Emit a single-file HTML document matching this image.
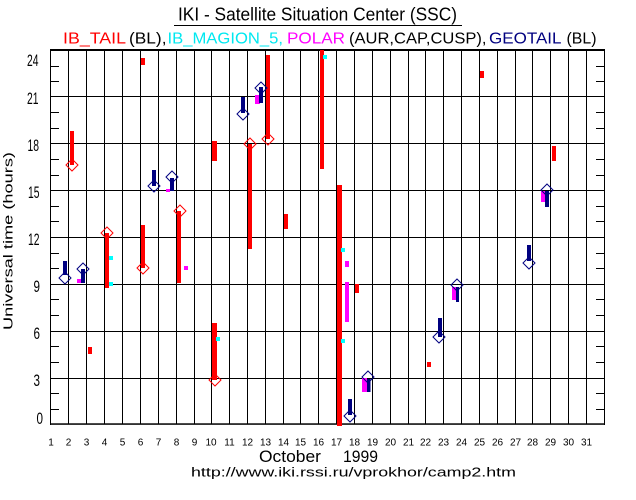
<!DOCTYPE html>
<html><head><meta charset="utf-8"><style>
html,body{margin:0;padding:0;background:#fff;}
svg{display:block;font-family:"Liberation Sans",sans-serif;}
</style></head><body>
<svg width="636" height="500" viewBox="0 0 636 500" xmlns="http://www.w3.org/2000/svg">
<rect width="636" height="500" fill="#fff"/>
<!-- titles -->
<text x="178" y="20.5" font-size="18" textLength="279" lengthAdjust="spacingAndGlyphs" fill="#000">IKI - Satellite Situation Center (SSC)</text>
<rect x="174" y="25" width="288" height="1" fill="#000"/>
<g font-size="16">
<text x="63" y="43.5" fill="#ff0000" textLength="63" lengthAdjust="spacingAndGlyphs">IB_TAIL</text>
<text x="129" y="43.5" fill="#000" textLength="37.5" lengthAdjust="spacingAndGlyphs">(BL),</text>
<text x="167.5" y="43.5" fill="#00e8f0" textLength="115.5" lengthAdjust="spacingAndGlyphs">IB_MAGION_5,</text>
<text x="287" y="43.5" fill="#ff00ff" textLength="58" lengthAdjust="spacingAndGlyphs">POLAR</text>
<text x="349" y="43.5" fill="#000" textLength="137.5" lengthAdjust="spacingAndGlyphs">(AUR,CAP,CUSP),</text>
<text x="489" y="43.5" fill="#000080" textLength="72.5" lengthAdjust="spacingAndGlyphs">GEOTAIL</text>
<text x="566.5" y="43.5" fill="#000" textLength="30" lengthAdjust="spacingAndGlyphs">(BL)</text>
</g>
<!-- y axis label -->
<text transform="translate(12.5,241) rotate(-90)" text-anchor="middle" font-size="13" textLength="178" lengthAdjust="spacingAndGlyphs" fill="#000">Universal time (hours)</text>
<!-- y tick labels -->
<g font-size="17" fill="#000" lengthAdjust="spacingAndGlyphs">
<text x="27" y="66" textLength="11.5" lengthAdjust="spacingAndGlyphs">24</text>
<text x="27" y="104" textLength="11.5" lengthAdjust="spacingAndGlyphs">21</text>
<text x="27.5" y="151" textLength="11.5" lengthAdjust="spacingAndGlyphs">18</text>
<text x="28" y="198" textLength="11.5" lengthAdjust="spacingAndGlyphs">15</text>
<text x="28" y="245" textLength="11.5" lengthAdjust="spacingAndGlyphs">12</text>
<text x="33.5" y="292" textLength="6.5" lengthAdjust="spacingAndGlyphs">9</text>
<text x="33.5" y="339" textLength="6.5" lengthAdjust="spacingAndGlyphs">6</text>
<text x="33.5" y="386" textLength="6.5" lengthAdjust="spacingAndGlyphs">3</text>
<text x="36.5" y="424" textLength="6.5" lengthAdjust="spacingAndGlyphs">0</text>
</g>
<!-- grid -->
<g stroke="#000" stroke-width="1" fill="none">
<path d="M68.5 50V424 M86.5 50V424 M104.5 50V424 M122.5 50V424 M140.5 50V424 M158.5 50V424 M176.5 50V424 M194.5 50V424 M211.5 50V424 M229.5 50V424 M247.5 50V424 M265.5 50V424 M283.5 50V424 M300.5 50V424 M318.5 50V424 M336.5 50V424 M354.5 50V424 M372.5 50V424 M390.5 50V424 M408.5 50V424 M425.5 50V424 M443.5 50V424 M461.5 50V424 M479.5 50V424 M497.5 50V424 M515.5 50V424 M532.5 50V424 M550.5 50V424 M568.5 50V424 M586.5 50V424"/>
<path d="M50 96.5H604 M50 143.5H604 M50 190.5H604 M50 237.5H604 M50 284.5H604 M50 331.5H604 M50 378.5H604"/>
<path d="M50.5 49V425 M604.5 49V425"/>
<path d="M50 66.5H59 M50 81.5H59 M50 112.5H59 M50 128.5H59 M50 159.5H59 M50 175.5H59 M50 206.5H59 M50 221.5H59 M50 253.5H59 M50 268.5H59 M50 299.5H59 M50 315.5H59 M50 346.5H59 M50 362.5H59 M50 393.5H59 M50 409.5H59"/>
<path d="M596 66.5H604 M596 81.5H604 M596 112.5H604 M596 128.5H604 M596 159.5H604 M596 175.5H604 M596 206.5H604 M596 221.5H604 M596 253.5H604 M596 268.5H604 M596 299.5H604 M596 315.5H604 M596 346.5H604 M596 362.5H604 M596 393.5H604 M596 409.5H604"/>
</g>
<rect x="50" y="49" width="555" height="2" fill="#000"/>
<rect x="50" y="423.3" width="555" height="1.5" fill="#000"/>
<!-- red bars -->
<g fill="#ff0000">
<rect x="70" y="131" width="4" height="34"/>
<rect x="141" y="58" width="4" height="7"/>
<rect x="105" y="233" width="4" height="55"/>
<rect x="141" y="225" width="4" height="43"/>
<rect x="177" y="211" width="4" height="72"/>
<rect x="212" y="141" width="5" height="20"/>
<rect x="212" y="323" width="5" height="57"/>
<rect x="248" y="144" width="4" height="105"/>
<rect x="266" y="55" width="4" height="84"/>
<rect x="284" y="214" width="4" height="15"/>
<rect x="320" y="50" width="4" height="119"/>
<rect x="337" y="185" width="5" height="241"/>
<rect x="88" y="347" width="4" height="7"/>
<rect x="355" y="284" width="4" height="9"/>
<rect x="427" y="362" width="4" height="5"/>
<rect x="480" y="71" width="4" height="7"/>
<rect x="552" y="146" width="4" height="15"/>
</g>
<!-- magenta -->
<g fill="#ff00ff">
<rect x="77" y="279" width="4" height="4"/>
<rect x="166" y="189" width="4" height="3"/>
<rect x="184" y="266" width="4" height="4"/>
<rect x="255" y="95" width="5" height="9"/>
<rect x="345" y="261" width="4" height="6"/>
<rect x="345" y="282" width="4" height="40"/>
<rect x="362" y="378" width="5" height="14"/>
<rect x="452" y="287" width="4" height="13"/>
<rect x="541" y="191" width="4" height="11"/>
</g>
<!-- cyan -->
<g fill="#00ffff">
<rect x="109" y="256" width="4" height="4"/>
<rect x="109" y="282" width="4" height="4"/>
<rect x="216" y="337" width="4" height="4"/>
<rect x="323" y="55" width="4" height="4"/>
<rect x="341" y="248" width="4" height="4"/>
<rect x="341" y="339" width="4" height="4"/>
</g>
<!-- navy bars -->
<g fill="#000080">
<rect x="63" y="261" width="4" height="14"/>
<rect x="81" y="269" width="4" height="14"/>
<rect x="152" y="170" width="4" height="16"/>
<rect x="170" y="178" width="4" height="13"/>
<rect x="241" y="97" width="4" height="16"/>
<rect x="259" y="87" width="4" height="16"/>
<rect x="348" y="399" width="4" height="16"/>
<rect x="367" y="379" width="3.5" height="13"/>
<rect x="438" y="318" width="4" height="19"/>
<rect x="456" y="287" width="3" height="15"/>
<rect x="527" y="245" width="4" height="16"/>
<rect x="545" y="191" width="4" height="16"/>
</g>
<!-- red diamonds -->
<g fill="none" stroke="#ff0000" stroke-width="1">
<path d="M72 159L78 165L72 171L66 165Z"/>
<path d="M107 227L113 233L107 239L101 233Z"/>
<path d="M143 262L149 268L143 274L137 268Z"/>
<path d="M180 205L186 211L180 217L174 211Z"/>
<path d="M215 374L221 380L215 386L209 380Z"/>
<path d="M250 138L256 144L250 150L244 144Z"/>
<path d="M268 133L274 139L268 145L262 139Z"/>
</g>
<!-- navy diamonds -->
<g fill="none" stroke="#000080" stroke-width="1">
<path d="M65 272L71 278L65 284L59 278Z"/>
<path d="M83 263L89 269L83 275L77 269Z"/>
<path d="M154 180L160 186L154 192L148 186Z"/>
<path d="M172 171L178 177L172 183L166 177Z"/>
<path d="M243 108L249 114L243 120L237 114Z"/>
<path d="M261 82L267 88L261 94L255 88Z"/>
<path d="M350 410L356 416L350 422L344 416Z"/>
<path d="M368 371L374 377L368 383L362 377Z"/>
<path d="M439 331L445 337L439 343L433 337Z"/>
<path d="M457 279L463 285L457 291L451 285Z"/>
<path d="M529 257L535 263L529 269L523 263Z"/>
<path d="M547 184L553 190L547 196L541 190Z"/>
</g>
<!-- day labels -->
<g font-size="10" fill="#000" text-anchor="middle">
<text x="51" y="445.5">1</text><text x="68.5" y="445.5">2</text><text x="86.5" y="445.5">3</text><text x="104.5" y="445.5">4</text><text x="122.5" y="445.5">5</text><text x="140.5" y="445.5">6</text><text x="158.5" y="445.5">7</text><text x="176.5" y="445.5">8</text><text x="194.5" y="445.5">9</text><text x="211" y="445.5">10</text><text x="229.5" y="445.5">11</text><text x="247.5" y="445.5">12</text><text x="265.5" y="445.5">13</text><text x="283.5" y="445.5">14</text><text x="300.5" y="445.5">15</text><text x="318.5" y="445.5">16</text><text x="336.5" y="445.5">17</text><text x="354.5" y="445.5">18</text><text x="372.5" y="445.5">19</text><text x="390.5" y="445.5">20</text><text x="408.5" y="445.5">21</text><text x="425.5" y="445.5">22</text><text x="443.5" y="445.5">23</text><text x="461.5" y="445.5">24</text><text x="479.5" y="445.5">25</text><text x="497.5" y="445.5">26</text><text x="515.5" y="445.5">27</text><text x="532.5" y="445.5">28</text><text x="550.5" y="445.5">29</text><text x="568.5" y="445.5">30</text><text x="586.5" y="445.5">31</text>
</g>
<!-- x axis title -->
<text x="259" y="462" font-size="17" textLength="62" lengthAdjust="spacingAndGlyphs" fill="#000">October</text>
<text x="343" y="462" font-size="17" textLength="35" lengthAdjust="spacingAndGlyphs" fill="#000">1999</text>
<text x="191" y="476.5" font-size="13" textLength="325" lengthAdjust="spacingAndGlyphs" fill="#000">http://www.iki.rssi.ru/vprokhor/camp2.htm</text>
</svg>
</body></html>
